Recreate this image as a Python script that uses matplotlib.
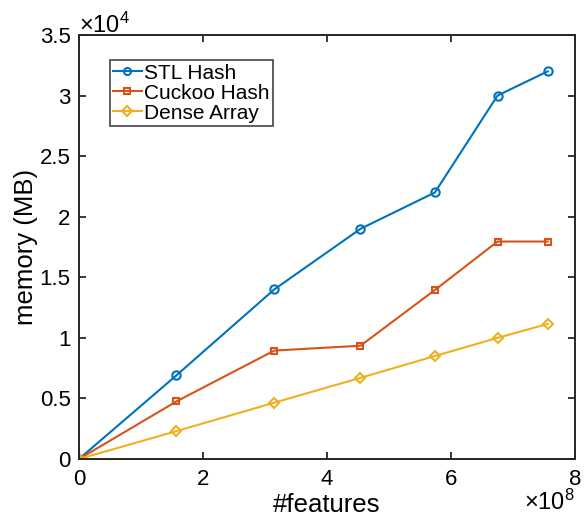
import matplotlib
matplotlib.use("Agg")
import matplotlib.pyplot as plt
from matplotlib.ticker import FuncFormatter

plt.rcParams['font.family'] = ['Liberation Sans', 'DejaVu Sans']
plt.rcParams['mathtext.fontset'] = 'custom'
plt.rcParams['mathtext.rm'] = 'Liberation Sans'
plt.rcParams['mathtext.default'] = 'regular'

# data
n_features = [0, 1.57e8, 3.15e8, 4.54e8, 5.74e8, 6.75e8, 7.56e8]
stl_hash = [0, 6900, 14000, 19000, 22000, 30000, 32000]
cuckoo_hash = [0, 4750, 8950, 9350, 13950, 17950, 17950]
dense_array = [0, 2300, 4650, 6700, 8500, 10000, 11150]

series = [
    ('STL Hash', stl_hash, '#0072BD', 'o', 6),
    ('Cuckoo Hash', cuckoo_hash, '#D95319', 's', 5),
    ('Dense Array', dense_array, '#EDB120', 'D', 5.5),
]

fig = plt.figure(figsize=(5.88, 5.16), dpi=100)
ax = fig.add_axes([79 / 588, 57 / 516, 496 / 588, 424 / 516])

for name, vals, col, mk, ms in series:
    ax.plot(n_features, vals, color=col, marker=mk, lw=1.5,
            ms=ms, mfc='none', mew=1.5, label=name)

ax.set_xlim(0, 8e8)
ax.set_ylim(0, 3.5e4)
ax.set_xticks([0, 2e8, 4e8, 6e8, 8e8])
ax.set_yticks([i * 5000 for i in range(8)])
ax.xaxis.set_major_formatter(FuncFormatter(lambda v, p: f'{v / 1e8:g}'))
ax.yaxis.set_major_formatter(FuncFormatter(lambda v, p: f'{v / 1e4:g}'))

ax.tick_params(direction='in', length=5, width=1.3, labelsize=16,
               top=True, right=True, colors='#262626', labelcolor='black')
ax.tick_params(axis='x', pad=7)
ax.tick_params(axis='y', pad=6)
for s in ax.spines.values():
    s.set_linewidth(1.4)
    s.set_color('#262626')

# MATLAB-style exponent labels
ax.text(0.0, 1.005, r'$\times10^4$', transform=ax.transAxes, fontsize=17,
        ha='left', va='baseline')
ax.text(1.0, -0.121, r'$\times10^8$', transform=ax.transAxes, fontsize=17,
        ha='right', va='baseline')

ax.set_xlabel('#features', fontsize=18.5, labelpad=2)
ax.set_ylabel('memory (MB)', fontsize=18.5, labelpad=1)

leg = ax.legend(loc='upper left', bbox_to_anchor=(0.062, 0.94), fontsize=15,
                frameon=True, fancybox=False, handlelength=1.4,
                handletextpad=0.1, borderpad=0.15, labelspacing=0.05,
                borderaxespad=0, markerscale=0.85)
leg.get_frame().set_edgecolor('#262626')
leg.get_frame().set_linewidth(1.3)

fig.savefig('out.png', dpi=100)
